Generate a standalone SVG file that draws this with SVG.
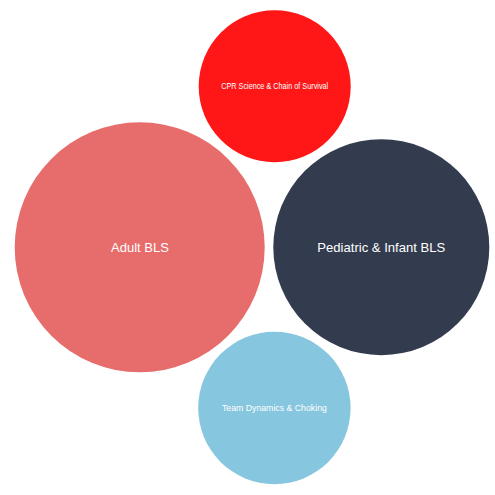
<svg xmlns="http://www.w3.org/2000/svg" width="495" height="495" viewBox="0 0 495 495">
<style>
.lbl{font-family:"Liberation Sans",Arial,sans-serif;fill:#ffffff;text-anchor:middle}
.big{font-size:13px}
.small{font-size:8.2px}
</style>
<rect width="495" height="495" fill="#ffffff"/>
<g id="connectors"></g>
<g id="node-cpr">
<circle cx="274.7" cy="86.3" r="76" fill="#FF1717"/>
<text class="lbl small" x="274.7" y="89" textLength="107" lengthAdjust="spacingAndGlyphs">CPR Science &amp; Chain of Survival</text>
</g>
<g id="node-adult">
<circle cx="139.7" cy="247.3" r="125" fill="#E76D6C"/>
<text class="lbl big" x="140" y="251.5">Adult BLS</text>
</g>
<g id="node-pediatric">
<circle cx="381.3" cy="247.2" r="108" fill="#333C4E"/>
<text class="lbl big" x="381.3" y="251.5" textLength="128" lengthAdjust="spacingAndGlyphs">Pediatric &amp; Infant BLS</text>
</g>
<g id="node-team">
<circle cx="274.4" cy="408" r="76.2" fill="#86C6DE"/>
<text class="lbl small" x="274.4" y="411" textLength="105" lengthAdjust="spacingAndGlyphs">Team Dynamics &amp; Choking</text>
</g>
</svg>
